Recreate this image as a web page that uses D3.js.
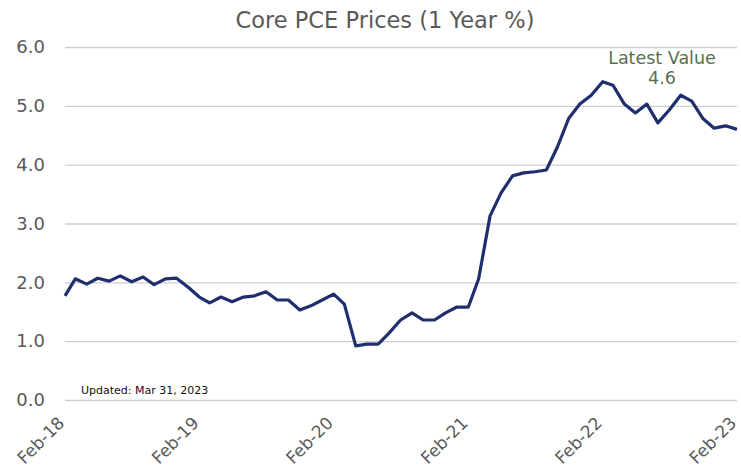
<html>
<head>
<script src="https://d3js.org/d3.v7.min.js"></script>
<style>
  body { margin: 0; background: #fff; }
</style>
</head>
<body>
<svg id="chart" width="741" height="472"></svg>
<script>
// monthly core PCE, y/y %, Feb-2018 .. Feb-2023
const startMonth = new Date(2018, 1, 1);
const values = [
  1.77, 2.06, 1.97, 2.07, 2.02, 2.11, 2.01, 2.09, 1.96, 2.06, 2.07, 1.92,
  1.75, 1.65, 1.75, 1.67, 1.75, 1.77, 1.84, 1.70, 1.70, 1.53, 1.60, 1.70,
  1.80, 1.63, 0.92, 0.95, 0.95, 1.14, 1.36, 1.48, 1.36, 1.36, 1.48, 1.58,
  1.58, 2.06, 3.13, 3.52, 3.81, 3.86, 3.88, 3.91, 4.30, 4.79, 5.03, 5.18,
  5.41, 5.35, 5.03, 4.88, 5.03, 4.71, 4.93, 5.18, 5.08, 4.78, 4.62, 4.66,
  4.60
];
const yTicks = [0, 1, 2, 3, 4, 5, 6];
const xTickLabels = ["Feb-18", "Feb-19", "Feb-20", "Feb-21", "Feb-22", "Feb-23"];
const latestLabel = ["Latest Value", "4.6"];

const data = values.map(function(v, i) {
  return { date: d3.timeMonth.offset(startMonth, i), value: v };
});

const mgLeft = 65, mgRight = 737, mgTop = 47, mgBottom = 400;
const svg = d3.select("#chart");

const xs = d3.scaleTime()
  .domain([data[0].date, data[data.length - 1].date])
  .range([mgLeft, mgRight]);
const ys = d3.scaleLinear()
  .domain([0, 6])
  .range([mgBottom, mgTop]);

// title
svg.append("text")
  .attr("x", 385).attr("y", 28)
  .attr("text-anchor", "middle")
  .style("font", "22.5px 'DejaVu Sans', Verdana, sans-serif")
  .style("fill", "#595959")
  .text("Core PCE Prices (1 Year %)");

// grid + y axis
const yAxis = svg.append("g")
  .attr("transform", "translate(" + mgLeft + ",0)")
  .call(d3.axisLeft(ys).tickValues(yTicks).tickFormat(d3.format(".1f"))
    .tickSize(-(mgRight - mgLeft)).tickPadding(20));
yAxis.select(".domain").remove();
yAxis.selectAll("line").attr("stroke", "#cfcfcf").attr("stroke-width", 1.3);
yAxis.selectAll("text")
  .style("font", "18px 'DejaVu Sans', Verdana, sans-serif")
  .style("fill", "#595959");

// x axis labels (rotated)
const xTickDates = xTickLabels.map(function(d, i) { return d3.timeMonth.offset(startMonth, 12 * i); });
const xAxis = svg.append("g")
  .attr("transform", "translate(0," + mgBottom + ")")
  .call(d3.axisBottom(xs).tickValues(xTickDates)
    .tickFormat(function(d, i) { return xTickLabels[i]; }).tickSize(0));
xAxis.select(".domain").remove();
xAxis.selectAll("text")
  .style("font", "17px 'DejaVu Sans', Verdana, sans-serif")
  .style("fill", "#595959")
  .attr("text-anchor", "end")
  .attr("y", 0)
  .attr("dx", "-17px")
  .attr("dy", "17px")
  .attr("transform", "rotate(-45)");

// line
const line = d3.line()
  .x(function(d) { return xs(d.date); })
  .y(function(d) { return ys(d.value); });
svg.append("path")
  .datum(data)
  .attr("fill", "none")
  .attr("stroke", "#1f2f6e")
  .attr("stroke-width", 3.2)
  .attr("stroke-linejoin", "round")
  .attr("d", line);

// latest value annotation
svg.append("g")
  .selectAll("text")
  .data(latestLabel)
  .enter()
  .append("text")
  .attr("x", 662)
  .attr("y", function(d, i) { return 64 + i * 20; })
  .attr("text-anchor", "middle")
  .style("font", "17.5px 'DejaVu Sans', Verdana, sans-serif")
  .style("fill", "#587050")
  .text(function(d) { return d; });

// updated note
svg.append("text")
  .attr("x", 81).attr("y", 394)
  .style("font", "11px 'DejaVu Sans', Verdana, sans-serif")
  .style("fill", "#111")
  .text("Updated: Mar 31, 2023");
</script>
</body>
</html>
